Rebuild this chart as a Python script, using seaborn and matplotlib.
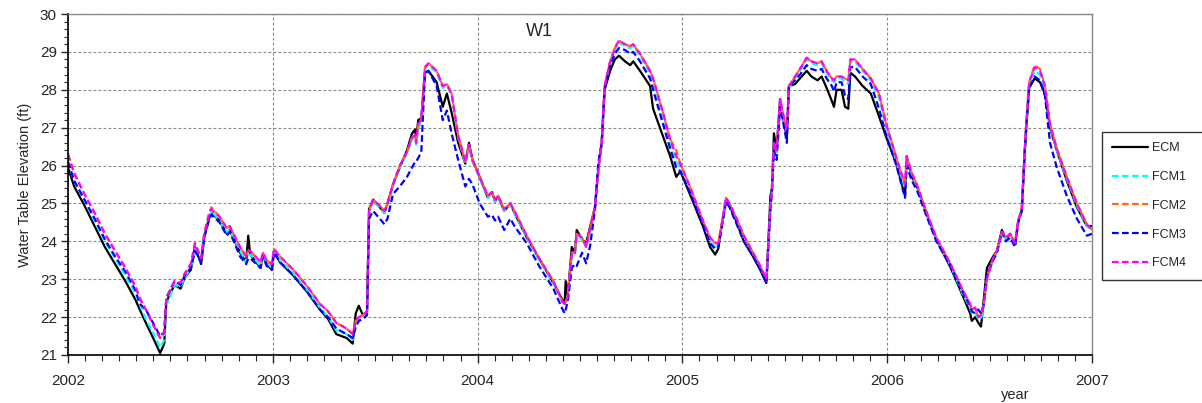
import matplotlib

matplotlib.use("Agg")
import matplotlib.pyplot as plt
import numpy as np
import pandas as pd
import seaborn as sns
from matplotlib.ticker import MultipleLocator

# decimal year of each reading
year = [
    2002.00, 2002.03, 2002.08, 2002.13, 2002.18, 2002.23, 2002.28, 2002.33, 2002.35, 2002.38,
    2002.42, 2002.45, 2002.47, 2002.48, 2002.52, 2002.55, 2002.57, 2002.60, 2002.62, 2002.65,
    2002.665, 2002.69, 2002.70, 2002.74, 2002.775, 2002.79, 2002.84, 2002.87, 2002.88, 2002.89,
    2002.94, 2002.952, 2002.97, 2002.995, 2003.006, 2003.035, 2003.10, 2003.17, 2003.23, 2003.27,
    2003.31, 2003.36, 2003.39, 2003.405, 2003.42, 2003.44, 2003.46, 2003.47, 2003.49, 2003.53,
    2003.545, 2003.56, 2003.587, 2003.62, 2003.655, 2003.68, 2003.695, 2003.70, 2003.71, 2003.725,
    2003.743, 2003.76, 2003.80, 2003.83, 2003.85, 2003.873, 2003.905, 2003.94, 2003.958, 2003.975,
    2004.01, 2004.05, 2004.07, 2004.085, 2004.10, 2004.13, 2004.16, 2004.18, 2004.24, 2004.30,
    2004.37, 2004.415, 2004.425, 2004.43, 2004.44, 2004.46, 2004.475, 2004.484, 2004.51, 2004.53,
    2004.55, 2004.573, 2004.59, 2004.606, 2004.62, 2004.647, 2004.67, 2004.69, 2004.72, 2004.745,
    2004.76, 2004.793, 2004.842, 2004.857, 2004.90, 2004.94, 2004.97, 2004.99, 2005.04, 2005.10,
    2005.135, 2005.16, 2005.175, 2005.19, 2005.213, 2005.23, 2005.265, 2005.30, 2005.345, 2005.38,
    2005.41, 2005.43, 2005.437, 2005.447, 2005.46, 2005.477, 2005.49, 2005.51, 2005.52, 2005.55,
    2005.574, 2005.607, 2005.63, 2005.66, 2005.68, 2005.704, 2005.73, 2005.74, 2005.753, 2005.777,
    2005.794, 2005.81, 2005.82, 2005.843, 2005.88, 2005.92, 2005.96, 2005.995, 2006.045, 2006.087,
    2006.095, 2006.12, 2006.145, 2006.19, 2006.24, 2006.31, 2006.37, 2006.405, 2006.413, 2006.43,
    2006.445, 2006.458, 2006.47, 2006.487, 2006.517, 2006.536, 2006.56, 2006.58, 2006.60, 2006.624,
    2006.64, 2006.657, 2006.67, 2006.68, 2006.693, 2006.72, 2006.746, 2006.77, 2006.795, 2006.828,
    2006.877, 2006.926, 2006.975, 2007.0,
]

ecm = [
    25.95, 25.45, 24.95, 24.4, 23.85, 23.4, 22.95, 22.45, 22.2, 21.85,
    21.4, 21.05, 21.3, 22.4, 22.85, 22.75, 23.05, 23.25, 23.85, 23.4,
    24.1, 24.65, 24.75, 24.55, 24.2, 24.3, 23.7, 23.45, 24.15, 23.65,
    23.3, 23.65, 23.4, 23.25, 23.75, 23.45, 23.1, 22.65, 22.2, 21.95,
    21.55, 21.45, 21.3, 22.1, 22.3, 22.05, 22.15, 24.85, 25.1, 24.85,
    24.75, 25.0, 25.5, 25.95, 26.4, 26.85, 26.95, 26.7, 27.2, 27.25,
    28.45, 28.5, 28.2, 27.55, 27.9, 27.4, 26.6, 26.05, 26.6, 26.15,
    25.7, 25.15, 25.3, 25.05, 25.2, 24.8, 25.0, 24.75, 24.1, 23.55,
    22.9, 22.45, 22.35, 22.95, 22.55, 23.85, 23.7, 24.3, 24.05, 23.95,
    24.4, 24.9, 25.95, 26.6, 28.0, 28.5, 28.8, 28.9, 28.75, 28.65,
    28.75, 28.5, 28.1, 27.5, 26.85, 26.25, 25.7, 25.85, 25.2, 24.4,
    23.85, 23.65, 23.8, 24.35, 25.1, 24.95, 24.5, 24.0, 23.6, 23.25,
    22.9, 25.2, 25.4, 26.85, 26.4, 27.75, 27.3, 26.75, 28.1, 28.15,
    28.3, 28.5, 28.35, 28.25, 28.35, 28.05, 27.7, 27.55, 28.0, 28.0,
    27.55, 27.5, 28.45, 28.35, 28.1, 27.9, 27.3, 26.75, 26.05, 25.2,
    26.2, 25.7, 25.45, 24.75, 24.05, 23.3, 22.55, 22.1, 21.9, 22.0,
    21.85, 21.75, 22.4, 23.3, 23.6, 23.75, 24.3, 24.05, 24.2, 23.9,
    24.55, 24.8, 26.2, 27.1, 28.05, 28.3, 28.2, 27.9, 27.0, 26.4,
    25.6, 24.9, 24.4, 24.4,
]

fcm1 = [
    26.1, 25.6, 25.1, 24.55, 24.0, 23.55, 23.1, 22.6, 22.35, 21.95,
    21.55, 21.2, 21.4, 22.3, 22.85, 22.8, 23.05, 23.3, 23.8, 23.45,
    24.1, 24.65, 24.8, 24.55, 24.25, 24.3, 23.75, 23.45, 23.65, 23.65,
    23.35, 23.65, 23.45, 23.3, 23.75, 23.5, 23.15, 22.7, 22.25, 22.0,
    21.65, 21.55, 21.4, 21.75, 21.95, 22.0, 22.1, 24.8, 25.05, 24.85,
    24.75, 24.95, 25.45, 25.95, 26.3, 26.7, 26.75, 26.55, 27.0, 27.1,
    28.55, 28.65, 28.45, 28.05, 28.1, 27.85, 26.75, 26.05, 26.5, 26.1,
    25.65, 25.15, 25.25, 25.05, 25.15, 24.8, 24.95, 24.75, 24.1, 23.5,
    22.9, 22.4, 22.35, 22.4, 22.5, 23.6, 23.65, 24.15, 24.05, 23.85,
    24.3, 24.9, 25.9, 26.6, 28.05, 28.7, 29.05, 29.25, 29.15, 29.1,
    29.15, 28.9, 28.45, 28.2, 27.35, 26.55, 26.1, 25.95, 25.3, 24.5,
    24.0, 23.85, 23.9, 24.35, 25.1, 24.95, 24.5, 24.05, 23.65, 23.3,
    22.95, 24.9, 25.3, 26.6, 26.35, 27.7, 27.35, 26.9, 28.05, 28.3,
    28.5, 28.8, 28.7, 28.65, 28.7, 28.45, 28.25, 28.2, 28.3, 28.3,
    28.2, 28.15, 28.75, 28.75, 28.5, 28.25, 27.8, 27.0, 26.1, 25.4,
    26.2, 25.75, 25.45, 24.75, 24.05, 23.35, 22.6, 22.25, 22.1, 22.1,
    21.95, 21.95, 22.2, 23.0, 23.5, 23.7, 24.2, 24.05, 24.15, 23.9,
    24.5, 24.8, 26.25, 27.15, 28.1, 28.5, 28.4, 28.05, 27.05, 26.4,
    25.65, 24.95, 24.4, 24.3,
]

fcm2 = [
    26.3, 25.8, 25.25, 24.75, 24.2, 23.75, 23.3, 22.8, 22.5, 22.2,
    21.75, 21.45, 21.6, 22.5, 22.95, 22.9, 23.15, 23.4, 23.95, 23.55,
    24.2, 24.75, 24.9, 24.65, 24.35, 24.4, 23.85, 23.6, 23.75, 23.75,
    23.45, 23.7, 23.5, 23.4, 23.8, 23.6, 23.25, 22.8, 22.35, 22.15,
    21.85, 21.7, 21.55, 21.9, 22.0, 22.05, 22.15, 24.8, 25.1, 24.9,
    24.8, 25.0, 25.5, 26.0, 26.35, 26.75, 26.8, 26.6, 27.1, 27.2,
    28.6, 28.7, 28.5, 28.1, 28.15, 27.9, 26.8, 26.1, 26.55, 26.15,
    25.7, 25.2, 25.3, 25.1, 25.2, 24.85, 25.0, 24.8, 24.15, 23.55,
    22.95, 22.4, 22.35, 22.4, 22.55, 23.7, 23.7, 24.2, 24.1, 23.85,
    24.35, 24.9, 25.9, 26.6, 28.1, 28.75, 29.1, 29.3, 29.2, 29.15,
    29.2, 28.95, 28.5, 28.3, 27.5, 26.7, 26.4, 26.05, 25.4, 24.55,
    24.1, 23.95, 23.95, 24.4, 25.15, 25.0, 24.6, 24.15, 23.7, 23.35,
    23.0, 24.9, 25.3, 26.6, 26.4, 27.75, 27.4, 26.95, 28.1, 28.35,
    28.55, 28.85, 28.75, 28.7, 28.75, 28.5, 28.3, 28.25, 28.35, 28.35,
    28.3, 28.25, 28.8, 28.8, 28.55, 28.3, 27.9, 27.1, 26.2, 25.5,
    26.25, 25.8, 25.5, 24.8, 24.1, 23.4, 22.7, 22.35, 22.2, 22.25,
    22.0, 22.05, 22.3, 23.0, 23.55, 23.75, 24.25, 24.1, 24.2, 23.95,
    24.55, 24.85, 26.3, 27.2, 28.2, 28.65, 28.55, 28.1, 27.1, 26.45,
    25.7, 25.0, 24.45, 24.3,
]

fcm3 = [
    26.1, 25.6, 25.1, 24.6, 24.05, 23.6, 23.2, 22.7, 22.35, 22.2,
    21.8, 21.5, 21.6, 22.5, 22.95, 22.85, 23.1, 23.3, 23.75, 23.45,
    24.1, 24.6, 24.7, 24.5, 24.15, 24.25, 23.6, 23.4, 23.55, 23.55,
    23.3, 23.6, 23.35, 23.25, 23.7, 23.45, 23.1, 22.65, 22.2, 22.0,
    21.7, 21.55, 21.45, 21.75, 21.9, 21.95, 22.05, 24.6, 24.8, 24.55,
    24.45, 24.6, 25.25, 25.45, 25.7, 25.95, 26.1, 26.1, 26.2, 26.35,
    28.45, 28.5, 28.1, 27.2, 27.45, 26.85, 26.15, 25.45, 25.65, 25.5,
    25.0, 24.65, 24.7, 24.55, 24.65, 24.3, 24.6, 24.4, 23.95, 23.35,
    22.75, 22.2, 22.1, 22.2, 22.4, 23.3, 23.4, 23.35, 23.7, 23.42,
    23.9, 24.85, 26.1, 26.6, 28.0, 28.65, 28.95, 29.1, 29.05, 28.95,
    29.0, 28.75, 28.3, 28.0, 27.2, 26.45, 25.95, 25.85, 25.25, 24.45,
    23.95, 23.8, 23.85, 24.3, 25.05, 24.9, 24.45, 24.0, 23.6, 23.25,
    22.9, 24.9, 25.3, 26.4, 26.15, 27.55, 27.2, 26.6, 28.1, 28.25,
    28.4, 28.65, 28.55, 28.5, 28.55, 28.3, 28.1, 27.95, 28.2, 28.2,
    27.85, 27.75, 28.6, 28.6, 28.35, 28.15, 27.5, 26.8, 26.0, 25.15,
    26.0, 25.6, 25.35, 24.7, 24.0, 23.35, 22.65, 22.3, 22.15, 22.1,
    22.2, 22.1, 22.3, 23.1, 23.5, 23.7, 24.25, 24.0, 24.1, 23.85,
    24.5, 24.8, 26.2, 27.1, 28.05, 28.35, 28.25, 27.85, 26.6, 25.95,
    25.2, 24.6, 24.15, 24.2,
]

fcm4 = [
    26.3, 25.8, 25.25, 24.75, 24.2, 23.75, 23.3, 22.8, 22.5, 22.2,
    21.75, 21.45, 21.6, 22.5, 22.95, 22.9, 23.15, 23.4, 23.95, 23.55,
    24.2, 24.75, 24.85, 24.65, 24.35, 24.4, 23.85, 23.6, 23.75, 23.75,
    23.45, 23.7, 23.5, 23.4, 23.8, 23.6, 23.25, 22.8, 22.35, 22.15,
    21.85, 21.7, 21.55, 21.9, 22.0, 22.05, 22.15, 24.8, 25.1, 24.9,
    24.8, 25.0, 25.5, 26.0, 26.35, 26.75, 26.8, 26.6, 27.1, 27.2,
    28.6, 28.7, 28.5, 28.1, 28.15, 27.9, 26.8, 26.1, 26.55, 26.15,
    25.7, 25.2, 25.3, 25.1, 25.2, 24.85, 25.0, 24.8, 24.15, 23.55,
    22.95, 22.4, 22.35, 22.4, 22.55, 23.7, 23.7, 24.2, 24.1, 23.85,
    24.35, 24.9, 25.9, 26.6, 28.1, 28.75, 29.1, 29.3, 29.2, 29.15,
    29.2, 28.95, 28.5, 28.3, 27.5, 26.7, 26.25, 26.05, 25.4, 24.55,
    24.1, 23.95, 23.95, 24.4, 25.15, 25.0, 24.6, 24.15, 23.7, 23.35,
    23.0, 24.9, 25.3, 26.6, 26.4, 27.75, 27.4, 26.95, 28.1, 28.35,
    28.55, 28.85, 28.75, 28.7, 28.75, 28.5, 28.3, 28.25, 28.35, 28.35,
    28.3, 28.25, 28.8, 28.8, 28.55, 28.3, 27.9, 27.1, 26.2, 25.5,
    26.25, 25.8, 25.5, 24.8, 24.1, 23.4, 22.7, 22.35, 22.2, 22.25,
    22.0, 22.05, 22.3, 23.0, 23.55, 23.75, 24.25, 24.1, 24.2, 23.95,
    24.55, 24.85, 26.3, 27.2, 28.2, 28.6, 28.5, 28.1, 27.1, 26.45,
    25.7, 25.0, 24.45, 24.3,
]

series_names = ["ECM", "FCM1", "FCM2", "FCM3", "FCM4"]
year_ticks = [2002, 2003, 2004, 2005, 2006, 2007]

df = pd.DataFrame(
    {"year": year, "ECM": ecm, "FCM1": fcm1, "FCM2": fcm2, "FCM3": fcm3, "FCM4": fcm4}
)
long = df.melt(id_vars="year", var_name="series", value_name="elev")

sns.set_style("ticks")
plt.rcParams["font.family"] = ["Liberation Sans", "DejaVu Sans"]

fig = plt.figure(figsize=(12.02, 4.03), dpi=100)
ax = fig.add_axes([68 / 1202, 48 / 403, 1024 / 1202, 341 / 403])

palette = {
    "ECM": "black",
    "FCM1": "#00ffff",
    "FCM2": "#ff6a13",
    "FCM3": "#0000ff",
    "FCM4": "#ff00ff",
}
dashes = {
    "ECM": "",
    "FCM1": (3, 1.5),
    "FCM2": (3, 1.5),
    "FCM3": (3, 1.5),
    "FCM4": (3, 1.5),
}
sns.lineplot(
    data=long,
    x="year",
    y="elev",
    hue="series",
    style="series",
    hue_order=series_names,
    style_order=series_names,
    palette=palette,
    dashes=dashes,
    linewidth=1.6,
    sort=False,
    estimator=None,
    ax=ax,
)

ax.set_xlim(2002, 2007)
ax.set_ylim(21, 30)
ax.set_xticks(year_ticks)
ax.set_xticklabels([str(y) for y in year_ticks])
ax.xaxis.set_minor_locator(MultipleLocator(1 / 12))
ax.yaxis.set_major_locator(MultipleLocator(1))
ax.yaxis.set_minor_locator(MultipleLocator(0.2))
ax.tick_params(axis="x", which="major", length=6, width=1, labelsize=11, pad=8)
ax.tick_params(axis="x", which="minor", length=4, width=0.8)
ax.tick_params(axis="y", which="major", length=5, width=1, labelsize=11, pad=3)
ax.tick_params(axis="y", which="minor", length=3, width=0.8)

ax.grid(True, which="major", color="#888888", linestyle=(0, (2.5, 2)), linewidth=0.8)
for side in ["left", "bottom"]:
    ax.spines[side].set_color("black")
    ax.spines[side].set_linewidth(1.2)
for side in ["top", "right"]:
    ax.spines[side].set_visible(True)
    ax.spines[side].set_color("#888888")
    ax.spines[side].set_linewidth(1.0)

ax.set_xlabel("")
ax.set_ylabel("Water Table Elevation (ft)", fontsize=10.5, labelpad=6)
ax.text(2004.3, 29.55, "W1", ha="center", va="center", fontsize=13)
fig.text(1015 / 1202, 1 - 395 / 403, "year", ha="center", va="center", fontsize=10.5)

# legend box runs off the right edge like in the original
handles, labels = ax.get_legend_handles_labels()
ax.get_legend().remove()
leg = fig.legend(
    handles,
    labels,
    loc="upper left",
    bbox_to_anchor=(1102 / 1202, 1 - 132 / 403, 0.3, 0),
    mode="expand",
    borderaxespad=0,
    fontsize=9,
    handlelength=2.9,
    handletextpad=0.3,
    labelspacing=1.35,
    borderpad=0.8,
    frameon=True,
    fancybox=False,
)
leg.get_frame().set_edgecolor("black")
leg.get_frame().set_linewidth(1.0)
for line in leg.get_lines():
    line.set_linewidth(1.6)

fig.savefig("out.png", dpi=100)
